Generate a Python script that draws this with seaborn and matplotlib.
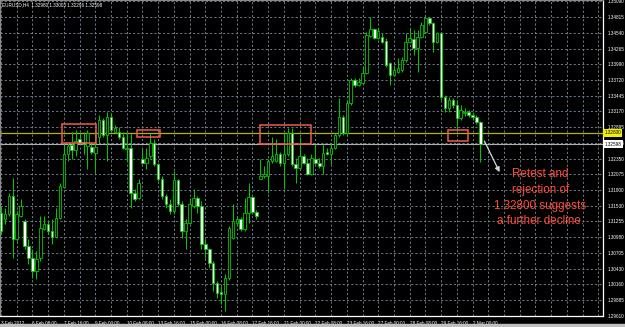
import numpy as np
import pandas as pd
import matplotlib
matplotlib.use("Agg")
import matplotlib.pyplot as plt
import matplotlib.transforms as mtransforms
from matplotlib.patches import Rectangle
import seaborn as sns

# ---------------- data ----------------
symbol = "EURUSD,H4"
opens = [1.31406, 1.31302, 1.31389, 1.31703, 1.30952, 1.31354, 1.31267, 1.30830, 1.30620, 1.30393,
         1.30620, 1.31127, 1.31214, 1.31092, 1.30987, 1.31319, 1.31861, 1.32437, 1.32594, 1.32507,
         1.32682, 1.32647, 1.32577, 1.32559, 1.32455, 1.32717, 1.33014, 1.32752, 1.33066, 1.32804,
         1.32804, 1.32717, 1.32524, 1.32542, 1.31756, 1.31668, 1.32350, 1.32280, 1.32402, 1.32629,
         1.32262, 1.32000, 1.31703, 1.31564, 1.31441, 1.31983, 1.31564, 1.31092, 1.31232, 1.31529,
         1.31668, 1.31529, 1.30865, 1.30777, 1.30533, 1.30184, 1.30026, 1.29991, 1.30271, 1.30970,
         1.31232, 1.31302, 1.31127, 1.31406, 1.31686, 1.31424, 1.32000, 1.32053, 1.32053, 1.32315,
         1.32315, 1.32437, 1.32280, 1.32437, 1.32787, 1.32262, 1.32193, 1.32402, 1.32280, 1.32088,
         1.32350, 1.32280, 1.32227, 1.32472, 1.32437, 1.32542, 1.32752, 1.33066, 1.32787, 1.33311,
         1.33712, 1.33625, 1.33660, 1.33835, 1.34481, 1.34603, 1.34446, 1.34464, 1.34394, 1.34009,
         1.33800, 1.33852, 1.33887, 1.34062, 1.34376, 1.34429, 1.34271, 1.34464, 1.34551, 1.34796,
         1.34708, 1.34376, 1.34534, 1.33415, 1.33223, 1.33363, 1.33276, 1.33049, 1.33136, 1.33153,
         1.33101, 1.33066, 1.32980]
highs = [1.31529, 1.31494, 1.31756, 1.32018, 1.31441, 1.31651, 1.31302, 1.30952, 1.30777, 1.30743,
         1.31354, 1.31354, 1.31267, 1.31302, 1.31494, 1.31930, 1.32612, 1.32629, 1.32804, 1.32839,
         1.32787, 1.32804, 1.32839, 1.32612, 1.32787, 1.33101, 1.33049, 1.33153, 1.33136, 1.32926,
         1.32891, 1.32804, 1.32804, 1.32787, 1.31826, 1.32000, 1.32542, 1.32542, 1.32787, 1.32699,
         1.32280, 1.32053, 1.31738, 1.31651, 1.32140, 1.32000, 1.31616, 1.31302, 1.31668, 1.31826,
         1.31703, 1.31616, 1.30952, 1.30795, 1.30568, 1.30218, 1.30131, 1.30341, 1.31179, 1.31564,
         1.31354, 1.31337, 1.31668, 1.31930, 1.31703, 1.31459, 1.32350, 1.32227, 1.32350, 1.32717,
         1.32699, 1.32472, 1.32787, 1.32874, 1.32874, 1.32367, 1.32717, 1.32437, 1.32367, 1.32437,
         1.32612, 1.32367, 1.32612, 1.32542, 1.32629, 1.32787, 1.33398, 1.33101, 1.33363, 1.33747,
         1.33747, 1.33747, 1.33940, 1.34551, 1.34813, 1.34621, 1.34621, 1.34534, 1.34446, 1.34027,
         1.33974, 1.34097, 1.34114, 1.34534, 1.34621, 1.34586, 1.34586, 1.34726, 1.34813, 1.34813,
         1.34726, 1.34551, 1.34551, 1.33450, 1.33415, 1.33398, 1.33363, 1.33276, 1.33223, 1.33188,
         1.33153, 1.33101, 1.33003]
lows = [1.31040, 1.31214, 1.31354, 1.30620, 1.30917, 1.31337, 1.30777, 1.30515, 1.30271, 1.30253,
        1.30568, 1.31109, 1.31040, 1.30865, 1.30970, 1.31302, 1.31843, 1.32315, 1.32350, 1.32402,
        1.32612, 1.32437, 1.32175, 1.32437, 1.32105, 1.32629, 1.32717, 1.32315, 1.32804, 1.32787,
        1.32699, 1.32524, 1.32315, 1.31494, 1.31616, 1.31651, 1.32262, 1.32175, 1.32367, 1.32227,
        1.31965, 1.31651, 1.31494, 1.31389, 1.31389, 1.31529, 1.30970, 1.30777, 1.31214, 1.31494,
        1.31406, 1.30777, 1.30620, 1.30446, 1.30044, 1.29921, 1.29817, 1.29694, 1.30236, 1.30952,
        1.31197, 1.31092, 1.31092, 1.31232, 1.31389, 1.31302, 1.31995, 1.32018, 1.31756, 1.32280,
        1.32297, 1.32227, 1.31826, 1.32402, 1.32227, 1.31930, 1.32175, 1.32262, 1.32070, 1.32070,
        1.32262, 1.32193, 1.32088, 1.32420, 1.32262, 1.32524, 1.32717, 1.32752, 1.32752, 1.33276,
        1.33590, 1.33608, 1.33643, 1.33817, 1.34464, 1.34429, 1.34429, 1.34359, 1.33940, 1.33625,
        1.33782, 1.33835, 1.33852, 1.34027, 1.34359, 1.34149, 1.33852, 1.34446, 1.34534, 1.34673,
        1.34202, 1.34359, 1.33363, 1.33153, 1.33153, 1.33223, 1.32839, 1.33014, 1.33084, 1.33066,
        1.33014, 1.32944, 1.32296]
closes = [1.31092, 1.31389, 1.31703, 1.30952, 1.31389, 1.31529, 1.30830, 1.30620, 1.30393, 1.30603,
          1.31144, 1.31214, 1.31092, 1.30987, 1.31319, 1.31878, 1.32437, 1.32577, 1.32507, 1.32664,
          1.32629, 1.32612, 1.32787, 1.32472, 1.32559, 1.33014, 1.32752, 1.33066, 1.32839, 1.32874,
          1.32717, 1.32542, 1.32542, 1.31756, 1.31651, 1.31930, 1.32280, 1.32367, 1.32629, 1.32262,
          1.32000, 1.31703, 1.31564, 1.31441, 1.31983, 1.31564, 1.31092, 1.31232, 1.31564, 1.31668,
          1.31529, 1.30865, 1.30777, 1.30533, 1.30184, 1.30009, 1.29991, 1.30271, 1.31144, 1.31267,
          1.31302, 1.31127, 1.31406, 1.31686, 1.31424, 1.31354, 1.32053, 1.32088, 1.32315, 1.32402,
          1.32437, 1.32280, 1.32437, 1.32787, 1.32262, 1.32193, 1.32402, 1.32280, 1.32088, 1.32367,
          1.32280, 1.32227, 1.32455, 1.32437, 1.32542, 1.32752, 1.33066, 1.32787, 1.33311, 1.33712,
          1.33625, 1.33677, 1.33835, 1.34499, 1.34603, 1.34446, 1.34568, 1.34376, 1.33974, 1.33800,
          1.33887, 1.33922, 1.34062, 1.34376, 1.34446, 1.34271, 1.34464, 1.34673, 1.34796, 1.34708,
          1.34376, 1.34534, 1.33415, 1.33223, 1.33363, 1.33276, 1.33049, 1.33188, 1.33153, 1.33101,
          1.33066, 1.32979, 1.32598]

date_labels = ["3 Feb 2012", "6 Feb 08:00", "7 Feb 16:00", "9 Feb 00:00", "10 Feb 08:00",
               "13 Feb 16:00", "15 Feb 00:00", "16 Feb 08:00", "17 Feb 16:00", "21 Feb 00:00",
               "22 Feb 08:00", "23 Feb 16:00", "27 Feb 00:00", "28 Feb 08:00", "29 Feb 16:00",
               "2 Mar 00:00"]
price_ticks = [1.35090, 1.34815, 1.34540, 1.34265, 1.33990, 1.33720, 1.33445, 1.33170, 1.32895,
               1.32625, 1.32350, 1.32075, 1.31800, 1.31530, 1.31255, 1.30980, 1.30705, 1.30430,
               1.30160, 1.29885, 1.29610]
resistance_level = 1.32800
note_text = "Retest and\nrejection of\n1.32800 suggests\na further decline."
# highlighted zones: (first bar, last bar, low price, high price)
zone_bar_start = [15.5, 34.6, 65.9, 113.7]
zone_bar_end = [24.2, 40.5, 78.9, 118.8]
zone_low = [1.32629, 1.32717, 1.32612, 1.32664]
zone_high = [1.32944, 1.32856, 1.32926, 1.32856]

# ---------------- styling ----------------
sns.set_theme(style="dark", rc={
    "axes.facecolor": "black",
    "figure.facecolor": "black",
    "savefig.facecolor": "black",
    "text.color": "white",
})
plt.rcParams["font.family"] = ["Liberation Sans", "DejaVu Sans"]

df = pd.DataFrame({"open": opens, "high": highs, "low": lows, "close": closes})
df["bar"] = np.arange(len(df))
df["bull"] = df["close"] >= df["open"]

W, H = 625, 327
fig = plt.figure(figsize=(W / 100, H / 100), dpi=100)
ax = fig.add_axes([0, 1 - 316 / H, 603 / W, 316 / H])
ax.set_facecolor("black")

green = "#00c800"
ax.vlines(df["bar"], df["low"], df["high"], color=green, lw=0.75, zorder=3)
bodies_bottom = np.minimum(df["open"], df["close"])
bodies_h = np.abs(df["close"] - df["open"]).clip(lower=0.00002)
ax.bar(df["bar"], bodies_h, bottom=bodies_bottom, width=0.64,
       color=np.where(df["bull"], "black", "white"), edgecolor=green, linewidth=0.6, zorder=4)

ax.set_xlim(-0.25, 153.2)
ax.set_ylim(1.29610, 1.35110)

# grid / ticks
major_x = np.arange(0, 8 * len(date_labels), 8)
ax.set_xticks(major_x)
ax.set_xticklabels(date_labels)
ax.set_xticks(np.arange(4, 154, 4), minor=True)
ax.set_yticks(price_ticks)
ax.set_yticklabels([f"{v:.5f}" for v in price_ticks])
ax.yaxis.tick_right()
grid_kw = dict(color="#6c7a8a", linestyle=(0, (2.2, 2.2)), linewidth=0.7)
ax.grid(True, which="major", axis="both", **grid_kw)
ax.grid(True, which="minor", axis="x", **grid_kw)
ax.tick_params(axis="y", which="major", length=0, pad=3.5, labelsize=3.3, labelcolor="white")
ax.tick_params(axis="x", which="major", length=2, width=0.6, color="white", pad=1.5,
               labelsize=3.3, labelcolor="white", direction="out")
ax.tick_params(axis="x", which="minor", length=0)
for lbl in ax.get_xticklabels():
    lbl.set_horizontalalignment("left")

for side in ["right", "bottom"]:
    ax.spines[side].set_color("white")
    ax.spines[side].set_linewidth(0.9)
for side in ["left", "top"]:
    ax.spines[side].set_color("#8a8a8a")
    ax.spines[side].set_linewidth(0.8)

# level lines
last_close = closes[-1]
ax.axhline(resistance_level, color="#b4b400", lw=0.9, zorder=2)
ax.axhline(last_close, color="#b0b0b0", lw=0.8, zorder=2)
trans = mtransforms.blended_transform_factory(ax.transAxes, ax.transData)
ax.text(1.002, resistance_level, f"{resistance_level:.5f}", transform=trans, fontsize=3.3,
        color="black", va="center", ha="left", clip_on=False,
        bbox=dict(boxstyle="square,pad=0.35", fc="#f0f000", ec="none"))
ax.text(1.002, last_close, f"{last_close:.5f}", transform=trans, fontsize=3.3,
        color="black", va="center", ha="left", clip_on=False,
        bbox=dict(boxstyle="square,pad=0.35", fc="white", ec="none"))

# highlighted zones
for x0, x1, y0, y1 in zip(zone_bar_start, zone_bar_end, zone_low, zone_high):
    ax.add_patch(Rectangle((x0, y0), x1 - x0, y1 - y0, fill=False, ec="#f25a4a", lw=1.1, zorder=5))

# arrow + note
ax.annotate("", xy=(127.2, 1.32070), xytext=(122.7, 1.32699),
            arrowprops=dict(arrowstyle="-|>", color="#d8d8d8", lw=0.9, mutation_scale=7), zorder=6)
ax.text(137.3, 1.31668, note_text, color="#ff4a3a", fontsize=8.4, ha="center", va="center",
        linespacing=1.42, zorder=6)

# header
ax.text(0.004, 0.992, f"{symbol}  {opens[-1]:.5f} {highs[-1]:.5f} {lows[-1]:.5f} {closes[-1]:.5f}",
        transform=ax.transAxes, fontsize=3.3, color="white", va="top", ha="left")

fig.add_artist(Rectangle((0, 0), 1, 3 / H, transform=fig.transFigure, color="#bfbfbf", zorder=10))

fig.savefig("out.png", dpi=100, facecolor="black")
